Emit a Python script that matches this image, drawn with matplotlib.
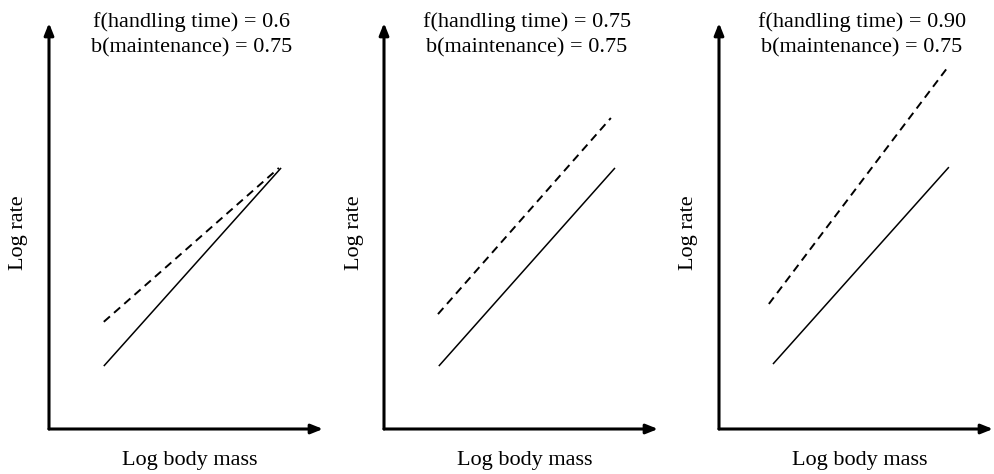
import numpy as np
import matplotlib
matplotlib.use('Agg')
import matplotlib.pyplot as plt

plt.rcParams['font.family'] = ['Liberation Serif', 'DejaVu Serif']

# values (arbitrary log units, x 0..10, y 0..10)
f_labels = ['0.6', '0.75', '0.90']
b_label = '0.75'

solid_x = [[2.0, 8.47], [2.0, 8.43], [1.97, 8.39]]
solid_y = [[1.55, 6.43], [1.55, 6.43], [1.60, 6.45]]
dashed_x = [[2.0, 8.39], [1.97, 8.28], [1.82, 8.36]]
dashed_y = [[2.64, 6.43], [2.83, 7.66], [3.08, 8.92]]

W, H = 994, 474
fig = plt.figure(figsize=(W/100, H/100), dpi=100)

origins = [49, 384, 719]
ax_w, ax_h = 274, 406
ax_bottom = H - 429

for i, x0 in enumerate(origins):
    ax = fig.add_axes([x0/W, ax_bottom/H, ax_w/W, ax_h/H])
    ax.set_xlim(0, 10)
    ax.set_ylim(0, 10)
    ax.axis('off')

    # axis arrows
    arrow = dict(arrowstyle='-|>,head_length=0.7,head_width=0.28', lw=2.2,
                 color='black', shrinkA=0, shrinkB=0)
    ax.annotate('', xy=(0, 1), xytext=(0, 0), xycoords='axes fraction',
                arrowprops=arrow, annotation_clip=False)
    ax.annotate('', xy=(1, 0), xytext=(0, 0), xycoords='axes fraction',
                arrowprops=arrow, annotation_clip=False)

    ax.plot(solid_x[i], solid_y[i], color='black', lw=1.1, solid_capstyle='butt')
    ax.plot(dashed_x[i], dashed_y[i], color='black', lw=1.4, dashes=(4.2, 2.8))

    ax.text(143/ax_w, (429-22)/ax_h, 'f(handling time) = ' + f_labels[i],
            transform=ax.transAxes, ha='center', va='center', fontsize=16)
    ax.text(143/ax_w, (429-48)/ax_h, 'b(maintenance) = ' + b_label,
            transform=ax.transAxes, ha='center', va='center', fontsize=16)
    ax.text(141/ax_w, -(460-429)/ax_h, 'Log body mass',
            transform=ax.transAxes, ha='center', va='center', fontsize=16)
    ax.text(-30/ax_w, 196/ax_h, 'Log rate', rotation=90,
            transform=ax.transAxes, ha='center', va='center', fontsize=16)

fig.savefig('out.png', dpi=100)
